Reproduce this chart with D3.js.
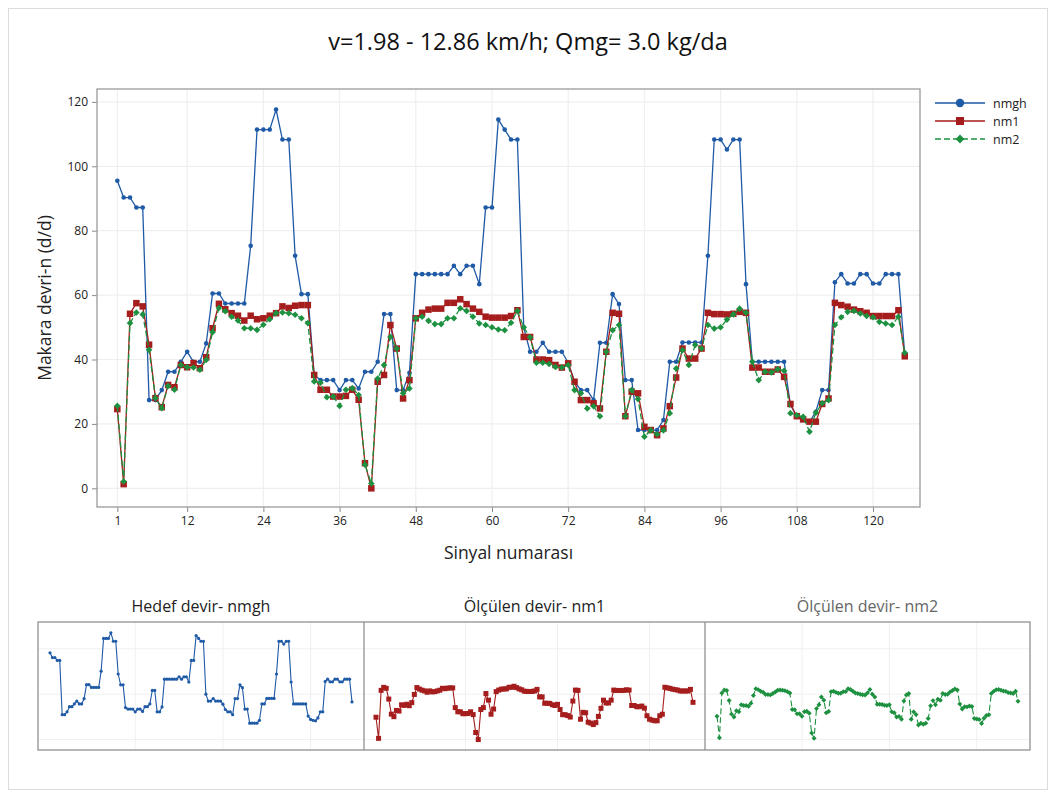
<!DOCTYPE html>
<html>
<head>
<meta charset="utf-8">
<script src="https://cdn.jsdelivr.net/npm/d3@7"></script>
<style>
  html, body { margin: 0; padding: 0; background: #fff; }
  svg { display: block; font-family: "Open Sans", "Noto Sans", sans-serif; }
</style>
</head>
<body>
<svg id="chart" width="1056" height="796"></svg>
<script>
// Signal numbers 1..125
const signalIndex = d3.range(1, 126);

// Target reel speed (nmgh)
const nmgh = [
  95.5, 90.3, 90.3, 87.2, 87.2, 27.4, 27.4, 30.5, 36.2, 36.2,
  39.3, 42.4, 39.3, 39.3, 45.0, 60.5, 60.5, 57.4, 57.4, 57.4,
  57.4, 75.3, 111.4, 111.4, 111.4, 117.6, 108.3, 108.3, 72.2, 60.3,
  60.3, 35.2, 33.6, 33.6, 33.6, 30.5, 33.6, 33.6, 31.0, 36.2,
  36.2, 39.3, 54.1, 54.1, 30.5, 30.5, 35.9, 66.5, 66.5, 66.5,
  66.5, 66.5, 66.5, 69.1, 66.5, 69.1, 69.1, 63.4, 87.2, 87.2,
  114.5, 111.4, 108.3, 108.3, 50.0, 42.4, 42.4, 45.2, 42.4, 42.4,
  42.4, 39.0, 33.1, 30.5, 30.5, 27.4, 45.2, 45.2, 60.3, 57.2,
  33.6, 33.6, 18.1, 18.1, 18.1, 18.1, 21.2, 39.3, 39.3, 45.3,
  45.3, 45.3, 45.3, 72.2, 108.3, 108.3, 105.2, 108.3, 108.3, 63.4,
  39.3, 39.3, 39.3, 39.3, 39.3, 39.3, 25.9, 22.2, 21.2, 20.6,
  23.8, 30.5, 30.5, 64.0, 66.5, 63.6, 63.6, 66.5, 66.5, 63.6,
  63.6, 66.5, 66.5, 66.5, 41.5
];

// Measured reel speed, sensor 1 (nm1)
const nm1 = [
  24.6, 1.3, 54.2, 57.5, 56.5, 44.6, 28.0, 25.2, 32.1, 31.4,
  38.3, 37.6, 38.9, 37.3, 40.7, 49.7, 57.3, 55.6, 54.4, 53.6,
  52.1, 53.6, 52.5, 52.8, 53.6, 54.4, 56.5, 56.0, 56.7, 56.9,
  56.9, 35.2, 30.6, 30.6, 28.5, 28.5, 28.7, 30.6, 27.5, 7.8,
  0.0, 33.1, 35.2, 50.7, 43.4, 27.9, 33.6, 52.8, 54.5, 55.5,
  55.8, 55.8, 57.6, 57.6, 58.7, 57.2, 55.8, 54.8, 53.3, 53.0,
  53.0, 53.0, 53.5, 55.3, 47.0, 47.0, 40.0, 40.0, 39.8, 38.3,
  37.5, 38.8, 33.1, 27.4, 27.4, 26.4, 24.8, 42.4, 54.5, 54.2,
  22.4, 30.0, 29.5, 19.1, 18.1, 16.5, 18.6, 25.5, 34.4, 43.4,
  40.3, 40.3, 43.4, 54.5, 54.1, 54.1, 54.0, 54.2, 54.8, 54.5,
  37.5, 37.5, 36.2, 36.2, 36.9, 34.6, 26.2, 22.4, 21.4, 20.7,
  20.7, 26.2, 27.9, 57.6, 56.9, 56.4, 55.5, 55.0, 54.5, 53.5,
  53.5, 53.5, 53.5, 55.3, 41.0
];

// Measured reel speed, sensor 2 (nm2)
const nm2 = [
  25.6, 2.1, 51.3, 54.6, 54.0, 43.0, 28.0, 24.9, 31.8, 30.6,
  38.3, 37.6, 37.5, 36.8, 39.9, 48.5, 56.0, 55.0, 53.3, 52.1,
  49.7, 49.7, 49.2, 50.8, 52.5, 54.4, 54.6, 54.4, 53.9, 52.8,
  51.3, 33.2, 32.8, 28.3, 28.5, 25.6, 30.6, 31.1, 29.0, 7.3,
  1.5, 34.1, 38.3, 47.0, 43.4, 29.5, 31.0, 52.8, 53.3, 52.0,
  51.0, 51.0, 52.8, 52.8, 55.9, 55.1, 53.3, 51.2, 50.7, 50.0,
  49.3, 49.1, 51.4, 55.1, 50.0, 46.9, 39.0, 39.0, 38.6, 37.7,
  37.5, 38.3, 30.5, 29.5, 24.8, 25.5, 22.4, 42.4, 49.1, 50.7,
  22.4, 30.5, 27.7, 16.0, 18.0, 16.8, 18.0, 23.3, 37.2, 42.9,
  38.3, 44.5, 43.4, 50.7, 49.6, 50.0, 52.4, 54.0, 55.8, 54.5,
  39.3, 33.6, 36.2, 36.0, 37.0, 36.5, 23.3, 22.7, 22.2, 17.6,
  23.5, 26.4, 27.4, 50.7, 53.1, 54.8, 55.1, 54.3, 53.5, 53.1,
  51.7, 51.2, 50.7, 53.3, 42.1
];

const xTicks = [1, 12, 24, 36, 48, 60, 72, 84, 96, 108, 120];
const yTicks = [0, 20, 40, 60, 80, 100, 120];
const seriesNames = ["nmgh", "nm1", "nm2"];
const panelTitles = ["Hedef devir- nmgh", "Ölçülen devir- nm1", "Ölçülen devir- nm2"];
const chartTitle = "v=1.98 - 12.86 km/h; Qmg= 3.0 kg/da";
const xTitle = "Sinyal numarası";
const yTitle = "Makara devri-n (d/d)";

const seriesValues = [nmgh, nm1, nm2];
const styles = [
  { color: "#1f5aa6", dash: null, marker: "circle", size: 2.3, legendSize: 4.2, miniSize: 1.6 },
  { color: "#a51d1d", dash: null, marker: "square", size: 6.5, legendSize: 8, miniSize: 5 },
  { color: "#1d9140", dash: "6,3", marker: "diamond", size: 6, legendSize: 8, miniSize: 4.5 }
];

const svg = d3.select("#chart");

// figure border
svg.append("rect").attr("x", 8.5).attr("y", 8.5).attr("width", 1039).attr("height", 781)
  .attr("fill", "#fff").attr("stroke", "#dcdcdc");

// title
svg.append("text").attr("x", 528).attr("y", 50).attr("text-anchor", "middle")
  .attr("font-size", 23.5).attr("fill", "#111").text(chartTitle);

// ---------- main plot ----------
const plot = { left: 97, right: 920, top: 89, bottom: 507 };
const x = d3.scaleLinear().domain([-2.2, 127.4]).range([plot.left, plot.right]);
const y = d3.scaleLinear().domain([-5.8, 124]).range([plot.bottom, plot.top]);

const g = svg.append("g");
g.append("rect").attr("x", plot.left).attr("y", plot.top)
  .attr("width", plot.right - plot.left).attr("height", plot.bottom - plot.top).attr("fill", "#fff");

// grid
g.append("g").selectAll("line").data(xTicks).join("line")
  .attr("x1", d => x(d)).attr("x2", d => x(d)).attr("y1", plot.top).attr("y2", plot.bottom)
  .attr("stroke", "#efefef").attr("stroke-width", 1.2);
g.append("g").selectAll("line").data(yTicks).join("line")
  .attr("y1", d => y(d)).attr("y2", d => y(d)).attr("x1", plot.left).attr("x2", plot.right)
  .attr("stroke", "#efefef").attr("stroke-width", 1.2);

// axes
const xAxis = d3.axisBottom(x).tickValues(xTicks).tickSize(5).tickPadding(4);
const yAxis = d3.axisLeft(y).tickValues(yTicks).tickSize(5).tickPadding(4);
const gx = g.append("g").attr("transform", `translate(0,${plot.bottom})`).call(xAxis);
const gy = g.append("g").attr("transform", `translate(${plot.left},0)`).call(yAxis);
[gx, gy].forEach(a => {
  a.select(".domain").remove();
  a.selectAll(".tick line").attr("stroke", "#8a8a8a");
  a.selectAll(".tick text").attr("font-size", 12).attr("fill", "#222")
    .attr("font-family", "\"Open Sans\", sans-serif");
});

// frame
g.append("rect").attr("x", plot.left).attr("y", plot.top)
  .attr("width", plot.right - plot.left).attr("height", plot.bottom - plot.top)
  .attr("fill", "none").attr("stroke", "#9a9a9a").attr("stroke-width", 1.3);

// axis titles
svg.append("text").attr("x", (plot.left + plot.right) / 2).attr("y", 559)
  .attr("text-anchor", "middle").attr("font-size", 17.5).attr("fill", "#222").text(xTitle);
svg.append("text").attr("transform", `translate(51,${(plot.top + plot.bottom) / 2}) rotate(-90)`)
  .attr("text-anchor", "middle").attr("font-size", 17.5).attr("fill", "#222").text(yTitle);

function markerPath(type, size) {
  const s = size / 2;
  if (type === "square") return `M${-s},${-s}h${size}v${size}h${-size}Z`;
  if (type === "diamond") { const d = s * 1.1; return `M0,${-d}L${d},0L0,${d}L${-d},0Z`; }
  return d3.symbol(d3.symbolCircle, Math.PI * s * s * 4)();
}

function drawSeries(layer, xs, ys, vals, st, size, lw) {
  const line = d3.line().x((d, i) => xs(signalIndex[i])).y(d => ys(d));
  layer.append("path").datum(vals).attr("d", line).attr("fill", "none")
    .attr("stroke", st.color).attr("stroke-width", lw)
    .attr("stroke-dasharray", st.dash);
  const p = st.marker === "circle" ? d3.symbol(d3.symbolCircle, Math.PI * size * size)() : markerPath(st.marker, size);
  layer.append("g").selectAll("path").data(vals).join("path")
    .attr("transform", (d, i) => `translate(${xs(signalIndex[i])},${ys(d)})`)
    .attr("d", p).attr("fill", st.color);
}

const dataLayer = g.append("g");
seriesValues.forEach((vals, k) => drawSeries(dataLayer, x, y, vals, styles[k], styles[k].size, 1.3));

// legend
const lg = svg.append("g");
seriesNames.forEach((name, k) => {
  const st = styles[k];
  const ly = 103 + k * 18;
  lg.append("line").attr("x1", 935).attr("x2", 985).attr("y1", ly).attr("y2", ly)
    .attr("stroke", st.color).attr("stroke-width", 1.4).attr("stroke-dasharray", st.dash);
  const p = st.marker === "circle" ? d3.symbol(d3.symbolCircle, Math.PI * st.legendSize * st.legendSize)() : markerPath(st.marker, st.legendSize);
  lg.append("path").attr("transform", `translate(960,${ly})`).attr("d", p).attr("fill", st.color);
  lg.append("text").attr("x", 993).attr("y", ly + 4.5).attr("font-size", 12.5).attr("fill", "#222").text(name);
});

// ---------- small panels ----------
const panelTop = 622, panelBottom = 750;
const panelEdges = [38, 364, 705, 1030];
const ys = d3.scaleLinear().domain([-11.5, 129.5]).range([panelBottom, panelTop]);
const miniGridX = [36, 72, 108];
const miniGridY = [0, 50, 100];

for (let k = 0; k < 3; k++) {
  const x0 = panelEdges[k], x1 = panelEdges[k + 1];
  const xs = d3.scaleLinear().domain([1, 125]).range([x0 + 12, x1 - 12]);
  const pg = svg.append("g");
  pg.selectAll(".gx").data(miniGridX).join("line")
    .attr("x1", d => xs(d)).attr("x2", d => xs(d)).attr("y1", panelTop).attr("y2", panelBottom)
    .attr("stroke", "#f0f0f0");
  pg.selectAll(".gy").data(miniGridY).join("line")
    .attr("y1", d => ys(d)).attr("y2", d => ys(d)).attr("x1", x0).attr("x2", x1)
    .attr("stroke", "#f0f0f0");
  drawSeries(pg, xs, ys, seriesValues[k], styles[k], styles[k].miniSize, 1.1);
  svg.append("text").attr("x", (x0 + x1) / 2).attr("y", 612).attr("text-anchor", "middle")
    .attr("font-size", 16).attr("fill", k === 2 ? "#666" : "#222").text(panelTitles[k]);
}
svg.append("rect").attr("x", 38).attr("y", panelTop).attr("width", 1030 - 38)
  .attr("height", panelBottom - panelTop).attr("fill", "none").attr("stroke", "#888").attr("stroke-width", 1.2);
svg.append("g").selectAll("line").data(panelEdges.slice(1, 3)).join("line")
  .attr("x1", d => d).attr("x2", d => d).attr("y1", panelTop).attr("y2", panelBottom)
  .attr("stroke", "#888").attr("stroke-width", 1.2);
</script>
</body>
</html>
